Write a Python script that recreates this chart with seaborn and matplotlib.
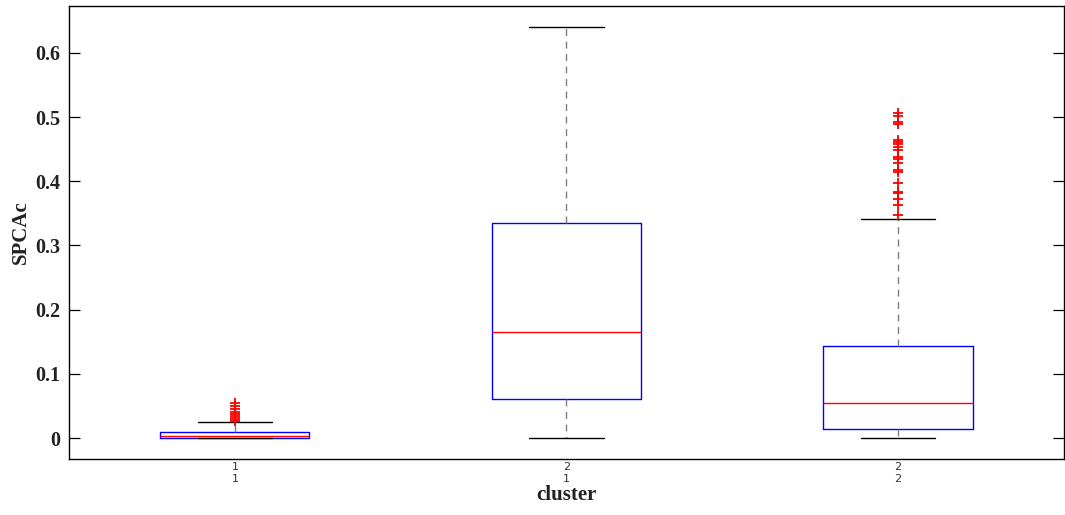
import matplotlib
matplotlib.use("Agg")
import matplotlib.pyplot as plt
import seaborn as sns

# Five-number summaries per cluster group, plus points beyond the whiskers
groups = ["1\n1", "2\n1", "2\n2"]
whisker_low = [0.0, 0.0, 0.0]
q1 = [0.0, 0.061, 0.0135]
median = [0.003, 0.165, 0.055]
q3 = [0.0098, 0.335, 0.144]
whisker_high = [0.0245, 0.640, 0.341]
outliers = [
    [0.026, 0.028, 0.031, 0.034, 0.037, 0.041, 0.046, 0.050, 0.054],
    [],
    [0.348, 0.363, 0.372, 0.381, 0.384, 0.397, 0.415, 0.418, 0.429, 0.434,
     0.438, 0.449, 0.454, 0.458, 0.461, 0.464, 0.489, 0.493, 0.502, 0.506],
]
y_ticks = [0, 0.1, 0.2, 0.3, 0.4, 0.5, 0.6]
y_tick_labels = ["0", "0.1", "0.2", "0.3", "0.4", "0.5", "0.6"]

sns.set_style("white")
plt.rcParams["font.family"] = ["Liberation Serif", "DejaVu Serif"]

fig = plt.figure(figsize=(10.65, 5.15), dpi=100)
ax = fig.add_axes([0.0648, 0.1087, 0.9342, 0.8796])

stats = []
for i, g in enumerate(groups):
    stats.append(dict(label=g, whislo=whisker_low[i], q1=q1[i], med=median[i],
                      q3=q3[i], whishi=whisker_high[i], fliers=outliers[i]))

ax.bxp(
    stats,
    positions=[1, 2, 3],
    widths=0.45,
    showfliers=True,
    boxprops=dict(color="#0000ff", linewidth=1.0),
    medianprops=dict(color="#ff0000", linewidth=1.0),
    whiskerprops=dict(color="#7f7f7f", linewidth=1.0, linestyle=(0, (5, 4))),
    capprops=dict(color="black", linewidth=1.0),
    capwidths=0.225,
    flierprops=dict(marker="+", markeredgecolor="#ff0000", markersize=7,
                    markeredgewidth=1.3, linestyle="none"),
)

ax.set_xlim(0.5, 3.5)
ax.set_ylim(-0.0327, 0.673)

ax.set_yticks(y_ticks)
ax.set_yticklabels(y_tick_labels, fontsize=14.5, fontweight="bold",
                   color="#222222")
ax.set_xticks([1, 2, 3])
ax.set_xticklabels(groups, fontsize=8, family="DejaVu Sans", color="#333333",
                   linespacing=1.25)

ax.tick_params(axis="y", direction="in", length=8, width=0.9, color="black",
               left=True, right=True, pad=6)
ax.tick_params(axis="x", length=0, pad=2)

for s in ax.spines.values():
    s.set_color("black")
    s.set_linewidth(1.0)
    s.set_visible(True)

ax.set_xlabel("cluster", fontsize=15, fontweight="bold", labelpad=1,
              color="#222222")
ax.set_ylabel("SPCAc", fontsize=15, fontweight="bold", labelpad=3,
              color="#222222")

fig.savefig("out.png", dpi=100, facecolor="white")
